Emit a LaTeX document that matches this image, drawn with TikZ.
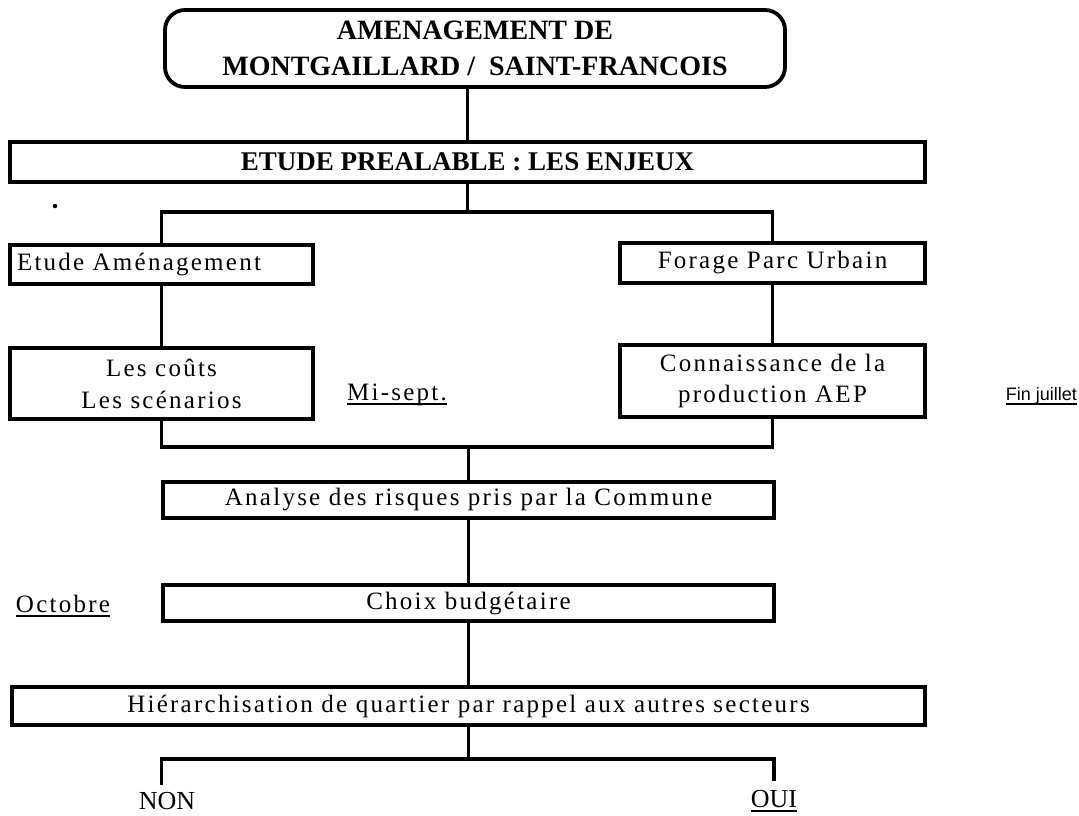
\documentclass[tikz,border=0pt]{standalone}
\usepackage{fontspec}
\setmainfont{Liberation Serif}
\newfontfamily\spacedfont[LetterSpace=9]{Liberation Serif}
\newfontfamily\arialfont{Liberation Sans}
\newcommand\myul[1]{\setbox0\hbox{#1}\rlap{\raisebox{-5pt}{\rule{\wd0}{1.8pt}}}\box0}
\begin{document}
\begin{tikzpicture}[x=1pt,y=-1pt,
  frame/.style={draw, line width=3.8pt, rectangle, inner sep=0pt},
  txt/.style={font=\spacedfont\fontsize{25}{32}\selectfont},
  ttl/.style={font=\fontsize{28}{36}\bfseries\selectfont},
  link/.style={line width=3.8pt}]
\useasboundingbox (0,0) rectangle (1079,815);
% boxes
\node[frame, rounded corners=20pt, minimum width=620, minimum height=77, align=center, ttl] (top) at (475,48.5) {AMENAGEMENT DE\\MONTGAILLARD /\ \ SAINT-FRANCOIS};
\node[frame, minimum width=915, minimum height=40, ttl, font=\fontsize{27}{30}\bfseries\selectfont] (etude) at (467.5,162) {ETUDE PREALABLE : LES ENJEUX};
\node[frame, minimum width=303, minimum height=39, txt, text width=289, align=left] (eam) at (161.5,264.5) {Etude Aménagement};
\node[frame, minimum width=305, minimum height=40, txt] (forage) at (772.5,263) {Forage Parc Urbain};
\node[frame, minimum width=303, minimum height=71, txt, align=center] (couts) at (161.5,383.5) {Les coûts\\Les scénarios};
\node[frame, minimum width=305, minimum height=72, txt, align=center, font=\spacedfont\fontsize{25}{31}\selectfont] (aep) at (772.5,381) {Connaissance de la\\production AEP};
\node[frame, minimum width=611, minimum height=36, txt] (analyse) at (468.5,500) {Analyse des risques pris par la Commune};
\node[frame, minimum width=611, minimum height=36, txt] (choix) at (468.5,603) {Choix budgétaire};
\node[frame, minimum width=913, minimum height=38, txt] (hier) at (468.5,706) {Hiérarchisation de quartier par rappel aux autres secteurs};
% labels
\node[txt, anchor=base] (misept) at (397,400) {\myul{Mi-sept.}};
\node[font=\arialfont\fontsize{18}{20}\selectfont, anchor=base east, inner sep=0pt] (juillet) at (1077,400) {\myul{Fin juillet}};
\node[txt, anchor=base] (octobre) at (63,612) {\myul{Octobre}};
\node[font=\fontsize{26}{30}\selectfont, anchor=base, inner sep=0pt] (non) at (167,809) {NON};
\node[font=\fontsize{26}{30}\selectfont, anchor=base, inner sep=0pt] (oui) at (774,807) {\myul{OUI}};
\fill (55,206) circle (2.2);
% connectors
\draw[link] (top.south -| etude.north) -- (etude.north);
\path (etude.south) ++(0,28) coordinate (j1);
\draw[link] (etude.south) -- (j1);
\draw[link] (eam.north) |- (j1) -| (forage.north);
\draw[link] (eam.south) -- (couts.north);
\draw[link] (forage.south) -- (aep.north);
\path (couts.south) ++(0,26) coordinate (j2);
\draw[link] (couts.south) -- (j2) -| (aep.south);
\draw[link] (analyse.north) -- (analyse.north |- j2);
\draw[link] (analyse.south) -- (choix.north);
\draw[link] (choix.south) -- (hier.north);
\path (hier.south) ++(0,32) coordinate (j3);
\coordinate (nonend) at (161.5,785);
\coordinate (ouiend) at (774,781);
\draw[link] (hier.south) -- (j3);
\draw[link] (nonend) |- (j3) -| (ouiend);
\end{tikzpicture}
\end{document}
